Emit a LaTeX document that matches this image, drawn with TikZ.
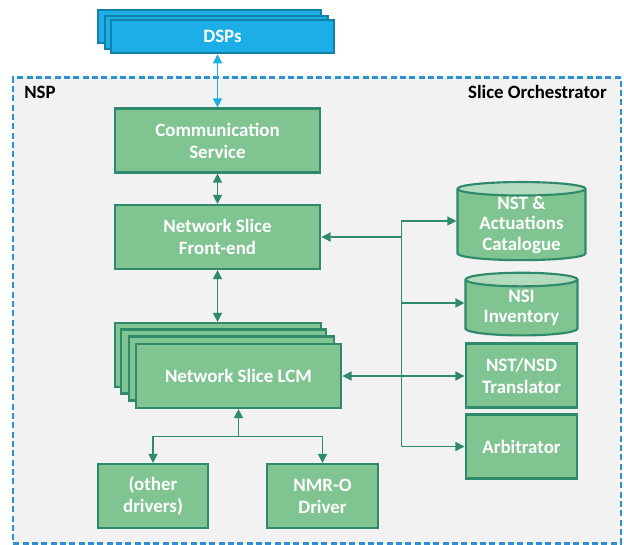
\documentclass[tikz,border=0pt]{standalone}
\usepackage{fontspec}
\setmainfont{Carlito}
\usetikzlibrary{arrows.meta,shapes.geometric,calc}
\definecolor{gfill}{HTML}{7FC491}
\definecolor{gdraw}{HTML}{2F8A6C}
\definecolor{gtop}{HTML}{B2DBBD}
\definecolor{bfill}{HTML}{1CAEE6}
\definecolor{bdraw}{HTML}{127FA8}
\definecolor{frameblue}{HTML}{2E8FD2}
\definecolor{panel}{HTML}{F2F2F2}
\tikzset{
  x=0.75pt,y=-0.75pt,
  gbox/.style={draw=gdraw,fill=gfill,line width=1.6pt,inner sep=0pt,align=center,text=white,
    font=\fontsize{14.2}{16.5}\selectfont\bfseries,minimum width=#1*0.75pt-0.9pt,minimum height=48pt},
  bbox/.style={draw=bdraw,fill=bfill,line width=1.6pt,inner sep=0pt,align=center,text=white,
    font=\fontsize{14.2}{16.5}\selectfont\bfseries,minimum width=167.6pt,minimum height=25pt},
  cyl/.style={cylinder,shape border rotate=90,draw=gdraw,line width=1.6pt,inner sep=0pt,align=center,text=white,
    font=\fontsize{14.2}{15.2}\selectfont\bfseries,cylinder uses custom fill,cylinder body fill=gfill,cylinder end fill=gtop},
  conn/.style={draw=gdraw,line width=1pt,{Triangle[length=6.8pt,width=6.8pt]}-{Triangle[length=6.8pt,width=6.8pt]}},
  conna/.style={draw=gdraw,line width=1pt,-{Triangle[length=6.8pt,width=6.8pt]}},
  connb/.style={draw=bfill,line width=1pt,{Triangle[length=6.8pt,width=6.8pt]}-{Triangle[length=6.8pt,width=6.8pt]}},
  lab/.style={font=\fontsize{14.1}{15}\selectfont\bfseries,text=black,inner sep=0pt},
}
\begin{document}
\begin{tikzpicture}
\useasboundingbox (0,0) rectangle (624,545);
\node[draw=frameblue,fill=panel,line width=1.6pt,dash pattern=on 4.5pt off 2.5pt,minimum width=455.5pt,minimum height=349.5pt,inner sep=0pt] (nsp) at (317,310.5) {};
\node[lab,anchor=west] (nsplab) at (24,92) {NSP};
\node[lab,anchor=east] (orch) at (607,92) {Slice Orchestrator};
% DSP stack
\node[bbox] (dspa) at (209.5,26.5) {};
\node[bbox] (dspb) at (216.5,32.5) {};
\node[bbox] (dsp) at (222.5,36.5) {DSPs};
% main column
\node[gbox=207] (comm) at (217.5,140.5) {Communication\\Service};
\node[gbox=207] (fe) at (217.5,237) {Network Slice\\Front-end};
\node[gbox=208] (lcma) at (218,355) {};
\node[gbox=207] (lcmb) at (223.5,361.5) {};
\node[gbox=207] (lcmc) at (231.5,368.5) {};
\node[gbox=207] (lcm) at (238.5,376) {Network Slice LCM};
\node[gbox=112] (other) at (153,496) {(other\\drivers)};
\node[gbox=113] (nmr) at (322.5,496) {NMR-O\\Driver};
% right column
\node[cyl,minimum width=96pt,minimum height=56.5pt,aspect=0.16] (nst) at (521.5,225) {NST \&\\Actuations\\Catalogue};
\node[cyl,minimum width=84pt,minimum height=47pt,aspect=0.18] (nsi) at (521.5,308) {NSI\\Inventory};
\node[gbox=113] (trans) at (521.5,375.5) {NST/NSD\\Translator};
\node[gbox=113] (arb) at (521.5,446.5) {Arbitrator};
% connectors
\coordinate (hub) at (fe.east -| 401.5,0);
\coordinate (drv) at (lcm.south |- 0,436.5);
\draw[connb] (comm.north) -- (comm.north |- dsp.south);
\draw[conn] (comm.south) -- (fe.north);
\draw[conn] (fe.south) -- (fe.south |- lcma.north);
\draw[conna] (hub) -- (fe.east);
\draw[conna] (hub) |- (nst.west |- 0,221);
\draw[conna] (hub) |- (nsi.west |- 0,303);
\draw[conna] (hub) |- (arb.west);
\draw[conn] (lcm.east) -- (lcm.east -| trans.west);
\draw[conna] (drv) -- (lcm.south);
\draw[conna] (drv) -| (other.north);
\draw[conna] (drv) -| (nmr.north);
\end{tikzpicture}
\end{document}
